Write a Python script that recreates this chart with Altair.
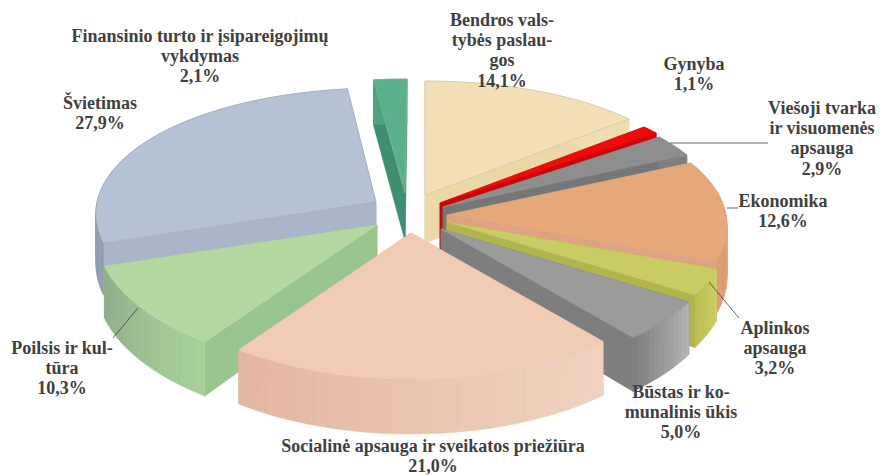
import altair as alt
import math
import pandas as pd

# Data
names = ["Bendros", "Gynyba", "Viešoji tvarka", "Ekonomika", "Aplinkos apsauga", "Būstas",
         "Socialinė apsauga", "Poilsis", "Švietimas", "Finansinio turto"]
values = [14.1, 1.1, 2.9, 12.6, 3.2, 5.0, 21.0, 10.3, 27.9, 2.1]
top_colors = ["#F3DFB6", "#F20A0A", "#8E8E8E", "#E6A878", "#C9CB64", "#9B9B9B", "#F2CBB4", "#B3D8A0", "#B5C1D4", "#5BB08C"]
wall_colors = ["#EAD8A8", "#C80808", "#767676", "#DFA282", "#B2B44E", "#7E7E7E", "#E3AE96", "#98C48E", "#A9B4C8", "#3E8F70"]
rim_start = ["#EEDDB0", "#E00000", "#808080", "#E8B088", "#D0CE68", "#B4B4B4", "#F1D2C0", "#A8D096", "#8D99AE", "#4FA381"]
rim_end = ["#EEDDB0", "#E00000", "#808080", "#DC9A72", "#BDBC52", "#808080", "#E4B6A0", "#8FAE8C", "#A9B4C8", "#4FA381"]
edge_colors = ["#C8C0A8", "#F20A0A", "#8E8E8E", "#C8A890", "#C9CB64", "#9B9B9B", "#F2CBB4", "#B3D8A0", "#A0A8B8", "#8FB0A0"]

# Layout: exploded position of each slice's tip, paint order back to front, sideways lean of the far edge
tips = [(425, 195), (440, 203), (443, 207), (447, 215), (447, 222), (441, 229), (411, 233), (377, 225), (376, 202), (405, 193)]
leans = [0, 0, 0, 0, 0, 0, 0, 0, 5, 2]
paint = [9, 0, 8, 1, 2, 3, 7, 4, 5, 6]

label_lines = [
    (["Bendros vals-", "tybės paslau-", "gos", "14,1%"], 502, 21),
    (["Gynyba", "1,1%"], 694, 65),
    (["Viešoji tvarka", "ir visuomenės", "apsauga", "2,9%"], 822, 109),
    (["Ekonomika", "12,6%"], 783, 202),
    (["Aplinkos", "apsauga", "3,2%"], 775, 329),
    (["Būstas ir ko-", "munalinis ūkis", "5,0%"], 681, 393),
    (["Socialinė apsauga ir sveikatos priežiūra", "21,0%"], 433, 447),
    (["Poilsis ir kul-", "tūra", "10,3%"], 62, 349),
    (["Švietimas", "27,9%"], 100, 104),
    (["Finansinio turto ir įsipareigojimų", "vykdymas", "2,1%"], 200, 37),
]
leaders = [[(670, 143), (768, 143)], [(727, 208), (738, 208)], [(709, 282), (739, 318)], [(138, 308), (113, 338)]]

total = sum(values)
edges = [0.0]
for v in values:
    edges.append(edges[-1] + v / total * 2 * math.pi)


def rim(i, t):
    c = math.cos(t)
    rx = 279 - 24 * c
    ry = 130 - 16 * c
    ax, ay = tips[i]
    return ax + rx * math.sin(t) + leans[i] * max(c, 0), ay - ry * c


def depth(t):
    return 50 - 5 * math.cos(t)


def mix(c1, c2, f):
    a = [int(c1[j:j + 2], 16) for j in (1, 3, 5)]
    b = [int(c2[j:j + 2], 16) for j in (1, 3, 5)]
    return "#" + "".join(f"{round(p + (q - p) * f):02X}" for p, q in zip(a, b))


rows = []
pid = 0


def poly(points, fill, stroke=None):
    global pid
    pid += 1
    for k, (x, y) in enumerate(points):
        rows.append({"x": x, "y": y, "part": f"p{pid:04d}", "k": k, "fill": fill, "stroke": stroke or fill})


for i in paint:
    a, b = edges[i], edges[i + 1]
    n = max(6, int((b - a) * 40))
    ts = [a + (b - a) * j / n for j in range(n + 1)]
    arc = [rim(i, t) for t in ts]
    tip = tips[i]
    h0 = 48
    # radial walls
    for t, p in ((a, arc[0]), (b, arc[-1])):
        d = depth(t)
        poly([tip, p, (p[0], p[1] + d), (tip[0], tip[1] + h0)], wall_colors[i])
    # rim wall, in shaded strips
    for j in range(n):
        p, q = arc[j], arc[j + 1]
        col = mix(rim_start[i], rim_end[i], j / max(n - 1, 1))
        poly([p, q, (q[0], q[1] + depth(ts[j + 1])), (p[0], p[1] + depth(ts[j]))], col)
    # top face
    poly([tip] + arc, top_colors[i], edge_colors[i])

df = pd.DataFrame(rows)
X = alt.X("x:Q", scale=alt.Scale(domain=[8, 876]), axis=None)
Y = alt.Y("y:Q", scale=alt.Scale(domain=[475, 8]), axis=None)

faces = alt.Chart(df).mark_line(filled=True, strokeWidth=0.6, interpolate="linear-closed").encode(
    x=X, y=Y, detail="part:N", order="k:Q",
    fill=alt.Fill("fill:N", scale=None), stroke=alt.Stroke("stroke:N", scale=None),
)

lrows = []
for n, seg in enumerate(leaders):
    for k, (x, y) in enumerate(seg):
        lrows.append({"x": x, "y": y, "seg": n, "k": k})
lines = alt.Chart(pd.DataFrame(lrows)).mark_line(color="#404040", strokeWidth=0.8).encode(
    x=X, y=Y, detail="seg:N", order="k:Q")

trows = []
for lines_, cx, y0 in label_lines:
    for j, s in enumerate(lines_):
        trows.append({"x": cx, "y": y0 + j * 20.2, "t": s})
text = alt.Chart(pd.DataFrame(trows)).mark_text(
    font="Liberation Serif", fontWeight="bold", fontSize=18, color="#404040", align="center", baseline="middle"
).encode(x=X, y=Y, text="t:N")

chart = (faces + lines + text).properties(
    width=868, height=467, padding=0, background="white",
    autosize=alt.AutoSizeParams(type="none"),
).configure_view(stroke=None)
chart.save("out.html", embed_options={"renderer": "svg", "actions": False})
